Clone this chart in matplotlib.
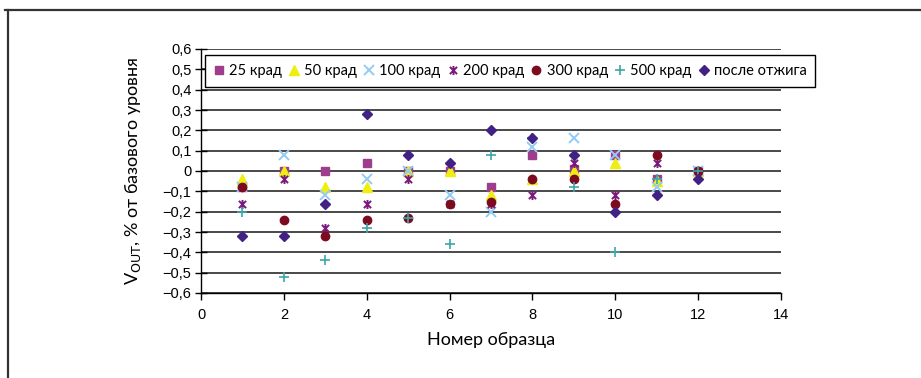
import matplotlib
matplotlib.use("Agg")
import matplotlib.pyplot as plt
from matplotlib.path import Path
from matplotlib.lines import Line2D
import numpy as np

samples = [1, 2, 3, 4, 5, 6, 7, 8, 9, 10, 11, 12]
v25 = [-0.08, 0.0, 0.0, 0.04, 0.0, 0.0, -0.08, 0.08, 0.01, 0.08, -0.04, 0.0]
v50 = [-0.04, 0.0, -0.08, -0.08, 0.0, 0.0, -0.12, -0.04, 0.0, 0.04, -0.05, 0.0]
v100 = [-0.08, 0.08, -0.12, -0.04, 0.0, -0.12, -0.2, 0.12, 0.16, 0.08, -0.08, 0.0]
v200 = [-0.16, -0.04, -0.28, -0.16, -0.04, -0.16, -0.16, -0.12, 0.04, -0.12, 0.04, 0.0]
v300 = [-0.08, -0.24, -0.32, -0.24, -0.23, -0.16, -0.15, -0.04, -0.04, -0.16, 0.08, 0.0]
v500 = [-0.2, -0.52, -0.44, -0.28, -0.23, -0.36, 0.08, 0.16, -0.08, -0.4, -0.04, 0.0]
v_anneal = [-0.32, -0.32, -0.16, 0.28, 0.08, 0.04, 0.2, 0.16, 0.08, -0.2, -0.12, -0.04]

labels = ["25 крад", "50 крад", "100 крад", "200 крад", "300 крад", "500 крад", "после отжига"]
yticks = [-0.6, -0.5, -0.4, -0.3, -0.2, -0.1, 0, 0.1, 0.2, 0.3, 0.4, 0.5, 0.6]
ytick_labels = ["\u22120,6", "\u22120,5", "\u22120,4", "\u22120,3", "\u22120,2", "\u22120,1",
                "0", "0,1", "0,2", "0,3", "0,4", "0,5", "0,6"]
xticks = [0, 2, 4, 6, 8, 10, 12, 14]

# asterisk marker (x with vertical bar)
ast = Path([(-1, -1), (1, 1), (-1, 1), (1, -1), (0, -1.25), (0, 1.25)],
           [Path.MOVETO, Path.LINETO, Path.MOVETO, Path.LINETO, Path.MOVETO, Path.LINETO])

series = [
    (v25, dict(marker="s", color="#9E3D8C", ms=5.5, ls="none")),
    (v50, dict(marker="^", color="#EEEE10", ms=7, ls="none")),
    (v100, dict(marker="x", color="#93CBF5", ms=6.5, mew=1.4, ls="none")),
    (v200, dict(marker=ast, color="#7B1A7B", ms=6.5, mew=1.4, ls="none")),
    (v300, dict(marker="o", color="#7D0B20", ms=6, ls="none")),
    (v500, dict(marker="+", color="#3AA8A8", ms=7.5, mew=1.2, ls="none")),
    (v_anneal, dict(marker="D", color="#422185", ms=5.5, ls="none")),
]

W, H = 921, 378
fig = plt.figure(figsize=(W / 100, H / 100), dpi=100)
ax = fig.add_axes([201 / W, (H - 293) / H, (781 - 201) / W, (293 - 49) / H])

for (vals, kw), lab in zip(series, labels):
    ax.plot(samples, vals, label=lab, **kw)

ax.set_xlim(0, 14)
ax.set_ylim(-0.6, 0.6)
ax.set_yticks(yticks)
ax.set_yticklabels(ytick_labels, family="Liberation Sans", fontsize=10.5)
ax.set_xticks(xticks)
ax.set_xticklabels([str(t) for t in xticks], family="Liberation Sans", fontsize=10.5)
ax.yaxis.grid(True, color="#3a3a3a", lw=1.3)
ax.set_axisbelow(True)
for s in ["top", "right"]:
    ax.spines[s].set_visible(False)
for s in ["left", "bottom"]:
    ax.spines[s].set_color("black")
    ax.spines[s].set_linewidth(1.0)
ax.tick_params(axis="y", direction="inout", length=8, width=1, pad=3)
ax.tick_params(axis="x", direction="out", length=5, width=1, pad=6)

ax.set_xlabel("Номер образца", family="Lato", fontsize=13, labelpad=7)
ax.set_ylabel(r"V$_{\mathrm{OUT}}$, % от базового уровня", family="Lato", fontsize=13, labelpad=14)

leg = ax.legend(loc="upper left", bbox_to_anchor=(0.007, 0.975), ncol=7, frameon=True,
                fancybox=False, edgecolor="black", framealpha=1, numpoints=1,
                handlelength=0.7, handletextpad=0.35, columnspacing=0.48,
                borderpad=0.6, borderaxespad=0.0, prop={"family": "Lato", "size": 10.5})
leg.get_frame().set_linewidth(1.0)

# outer frame
fig.add_artist(Line2D([5 / W, 1.0], [1 - 10 / H, 1 - 10 / H], color="#333333", lw=1.6))
fig.add_artist(Line2D([8 / W, 8 / W], [0, 1 - 10 / H], color="#333333", lw=1.6))

fig.savefig("out.png", dpi=100)
